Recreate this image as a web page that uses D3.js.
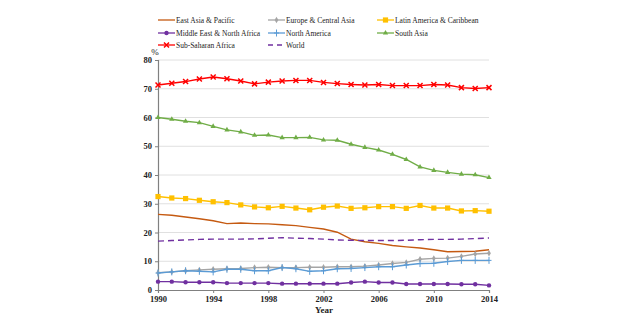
<!DOCTYPE html>
<html lang="en">
<head>
<meta charset="UTF-8">
<title>Regional shares</title>
<style>
    body { margin: 0; background: #fff; }
    svg text { font-family: "Times New Roman", "Liberation Serif", "DejaVu Serif", serif; fill: #222; }
</style>
</head>
<body>
<div id="content"></div>
<script src="https://d3js.org/d3.v7.min.js"></script>
<script>

    // years and tick labels
    var years = d3.range(1990, 2015);
    var xTicks = [1990, 1994, 1998, 2002, 2006, 2010, 2014];
    var yTicks = [0, 10, 20, 30, 40, 50, 60, 70, 80];

    // series values (%)
    var eastAsiaPacific = [26.3, 26.0, 25.4, 24.8, 24.1, 23.1, 23.3, 23.1, 23.0, 22.7, 22.4, 21.8, 21.2, 20.1, 17.7, 16.8, 16.2, 15.5, 15.0, 14.6, 14.0, 13.3, 13.4, 13.5, 14.0];
    var europeCentralAsia = [6.0, 6.3, 6.7, 7.0, 7.2, 7.4, 7.5, 7.8, 7.9, 7.8, 7.8, 7.9, 7.9, 8.1, 8.1, 8.3, 8.7, 9.2, 9.6, 10.7, 11.0, 11.1, 11.7, 12.5, 12.8];
    var latinAmerica = [32.5, 32.0, 31.8, 31.2, 30.7, 30.4, 29.6, 28.9, 28.6, 29.1, 28.5, 27.9, 28.8, 29.2, 28.4, 28.6, 29.0, 29.0, 28.4, 29.4, 28.5, 28.5, 27.5, 27.6, 27.4];
    var middleEastNAfrica = [2.9, 2.9, 2.7, 2.7, 2.7, 2.4, 2.4, 2.4, 2.4, 2.2, 2.2, 2.2, 2.2, 2.2, 2.6, 2.9, 2.6, 2.6, 2.1, 2.1, 2.1, 2.1, 2.0, 2.0, 1.6];
    var northAmerica = [5.9, 6.3, 6.7, 6.5, 6.3, 7.2, 7.2, 6.7, 6.7, 7.8, 7.4, 6.5, 6.7, 7.4, 7.5, 7.8, 8.1, 8.1, 8.7, 9.2, 9.3, 9.9, 10.3, 10.3, 10.3];
    var southAsia = [60.0, 59.4, 58.7, 58.2, 56.9, 55.7, 55.0, 53.8, 53.9, 53.0, 53.0, 53.1, 52.2, 52.1, 50.7, 49.6, 48.7, 47.2, 45.4, 42.8, 41.6, 40.9, 40.3, 40.1, 39.1];
    var subSaharanAfrica = [71.3, 71.9, 72.5, 73.4, 74.1, 73.5, 72.7, 71.7, 72.3, 72.7, 72.9, 72.9, 72.2, 71.8, 71.5, 71.3, 71.5, 71.1, 71.1, 71.1, 71.5, 71.3, 70.4, 70.1, 70.4];
    var world = [17.0, 17.2, 17.4, 17.6, 17.7, 17.7, 17.7, 17.8, 18.0, 18.2, 18.0, 17.9, 17.7, 17.4, 17.3, 17.2, 17.2, 17.2, 17.3, 17.5, 17.6, 17.6, 17.7, 17.9, 18.1];

    var series = [
        {name: "East Asia & Pacific", values: eastAsiaPacific, color: "#c55a11", marker: "none"},
        {name: "Europe & Central Asia", values: europeCentralAsia, color: "#a5a5a5", marker: "diamond"},
        {name: "Latin America & Caribbean", values: latinAmerica, color: "#ffc000", marker: "square"},
        {name: "Middle East & North Africa", values: middleEastNAfrica, color: "#7030a0", marker: "circle"},
        {name: "North America", values: northAmerica, color: "#5b9bd5", marker: "plus"},
        {name: "South Asia", values: southAsia, color: "#70ad47", marker: "triangle"},
        {name: "Sub-Saharan Africa", values: subSaharanAfrica, color: "#ff0000", marker: "cross"},
        {name: "World", values: world, color: "#7030a0", marker: "dash"}
    ];

    var serif = "'Times New Roman', 'Liberation Serif', serif";
    var width = 640, height = 330;
    var margin = {left: 158, right: 151, top: 60, bottom: 40};

    var svg = d3.select("#content").append("svg")
        .attr("width", width)
        .attr("height", height);

    var xScale = d3.scaleLinear().domain([1990, 2014]).range([margin.left, width - margin.right]);
    var yScale = d3.scaleLinear().domain([0, 80]).range([height - margin.bottom, margin.top]);

    // gridlines
    svg.append("g")
        .selectAll("line")
        .data(yTicks.filter(function (d) { return d > 0; }))
        .enter().append("line")
        .attr("x1", xScale(1990))
        .attr("x2", xScale(2014))
        .attr("y1", function (d) { return yScale(d); })
        .attr("y2", function (d) { return yScale(d); })
        .attr("stroke", "#e0e0e0")
        .attr("stroke-width", 1);

    // axes
    var yAxis = d3.axisLeft(yScale).tickValues(yTicks).tickSize(3).tickPadding(3);
    var xAxis = d3.axisBottom(xScale).tickValues(xTicks).tickFormat(d3.format("d")).tickSize(3).tickPadding(3);

    var yAxisG = svg.append("g")
        .attr("transform", "translate(" + xScale(1990) + ",0)")
        .call(yAxis);
    var xAxisG = svg.append("g")
        .attr("transform", "translate(0," + yScale(0) + ")")
        .call(xAxis);

    [yAxisG, xAxisG].forEach(function (g) {
        g.attr("font-family", serif);
        g.select(".domain").attr("stroke", "#808080").attr("stroke-width", 1.2);
        g.selectAll(".tick line").attr("stroke", "#808080");
        g.selectAll("text")
            .attr("font-family", serif)
            .style("font-family", serif)
            .style("font-size", "8.5px")
            .style("font-weight", "bold")
            .attr("fill", "#222");
    });

    svg.append("text")
        .attr("x", 155)
        .attr("y", 55)
        .attr("text-anchor", "middle")
        .style("font-family", serif)
        .style("font-size", "9px")
        .text("%");

    svg.append("text")
        .attr("x", 324)
        .attr("y", 313)
        .attr("text-anchor", "middle")
        .style("font-family", serif)
        .style("font-size", "9px")
        .style("font-weight", "bold")
        .text("Year");

    // marker shapes
    function drawMarker(g, type, x, y, color) {
        if (type === "circle") {
            g.append("circle").attr("cx", x).attr("cy", y).attr("r", 2.2).attr("fill", color);
        } else if (type === "square") {
            g.append("rect").attr("x", x - 2.6).attr("y", y - 2.6).attr("width", 5.2).attr("height", 5.2).attr("fill", color);
        } else if (type === "diamond") {
            g.append("path").attr("d", d3.symbol(d3.symbolDiamond, 12)()).attr("transform", "translate(" + x + "," + y + ")").attr("fill", color);
        } else if (type === "triangle") {
            g.append("path").attr("d", d3.symbol(d3.symbolTriangle, 12)()).attr("transform", "translate(" + x + "," + y + ")").attr("fill", color);
        } else if (type === "plus") {
            g.append("path").attr("d", "M" + x + "," + (y - 3.5) + "V" + (y + 3.5) + "M" + (x - 2.5) + "," + y + "H" + (x + 2.5))
                .attr("stroke", color).attr("stroke-width", 1).attr("fill", "none");
        } else if (type === "cross") {
            g.append("path").attr("d", "M" + (x - 2.5) + "," + (y - 2.5) + "L" + (x + 2.5) + "," + (y + 2.5) + "M" + (x - 2.5) + "," + (y + 2.5) + "L" + (x + 2.5) + "," + (y - 2.5))
                .attr("stroke", color).attr("stroke-width", 1.5).attr("fill", "none");
        }
    }

    var lineGen = d3.line()
        .x(function (d, i) { return xScale(years[i]); })
        .y(function (d) { return yScale(d); });

    series.forEach(function (s) {
        var g = svg.append("g");
        g.append("path")
            .datum(s.values)
            .attr("d", lineGen)
            .attr("fill", "none")
            .attr("stroke", s.color)
            .attr("stroke-width", 1.4)
            .attr("stroke-dasharray", s.marker === "dash" ? "6,4" : null);
        if (s.marker !== "none" && s.marker !== "dash") {
            s.values.forEach(function (v, i) {
                drawMarker(g, s.marker, xScale(years[i]), yScale(v), s.color);
            });
        }
    });

    // legend, three columns
    var legendCols = [158, 268, 377];
    var legendRows = [20, 33, 45];
    var legend = svg.append("g");
    series.forEach(function (s, i) {
        var lx = legendCols[i % 3], ly = legendRows[Math.floor(i / 3)];
        legend.append("line")
            .attr("x1", lx).attr("x2", lx + 17)
            .attr("y1", ly).attr("y2", ly)
            .attr("stroke", s.color)
            .attr("stroke-width", 1.3)
            .attr("stroke-dasharray", s.marker === "dash" ? "5,4" : null);
        if (s.marker !== "none" && s.marker !== "dash") {
            drawMarker(legend, s.marker, lx + 8.5, ly, s.color);
        }
        legend.append("text")
            .attr("x", lx + 18)
            .attr("y", ly + 2.7)
            .style("font-family", serif)
            .style("font-size", "7.5px")
            .text(s.name);
    });

</script>
</body>
</html>
